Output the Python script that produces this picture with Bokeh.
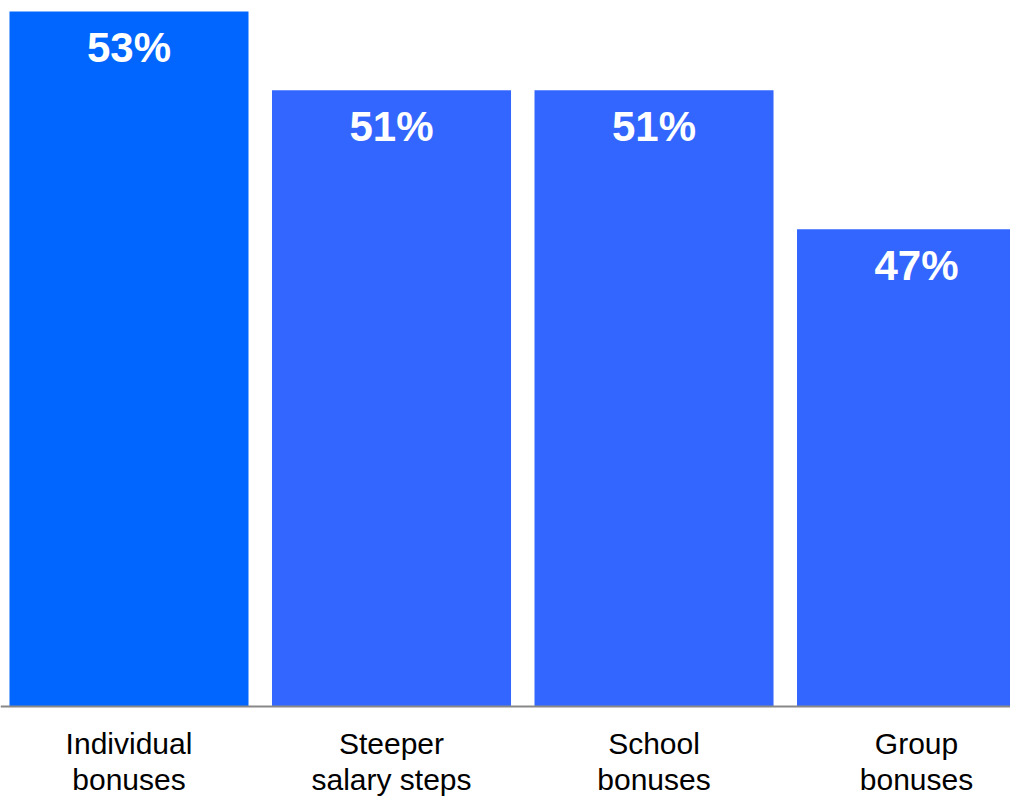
from bokeh.plotting import figure
from bokeh.models import ColumnDataSource, Range1d, Span
from bokeh.core.properties import value
from bokeh.embed import file_html
from bokeh.resources import INLINE

categories = ["Individual\nbonuses", "Steeper\nsalary steps", "School\nbonuses", "Group\nbonuses"]
values = [53.0, 50.85, 50.85, 47.05]
value_labels = ["53%", "51%", "51%", "47%"]
colors = ["#0066FF", "#3366FF", "#3366FF", "#3366FF"]
base = 34.0

xs = list(range(len(categories)))
src = ColumnDataSource(dict(x=xs, top=values, cat=categories, lab=value_labels, color=colors))

p = figure(width=1010, height=798, output_backend="svg", toolbar_location=None,
           x_range=Range1d(-0.4895, 3.358), y_range=Range1d(31.485, 53.3007),
           min_border=0, min_border_left=0, min_border_right=0, min_border_top=0, min_border_bottom=0)
p.axis.visible = False
p.grid.visible = False
p.outline_line_color = None
p.background_fill_color = "white"
p.border_fill_color = "white"

p.vbar(x="x", top="top", bottom=base, width=0.9105, fill_color="color", line_color=None, source=src)

p.add_layout(Span(location=base, dimension="width", line_color="#888888", line_width=2))

p.text(x="x", y="top", text="lab", source=src, text_color="white",
       text_font=value("Liberation Sans"), text_font_style="bold", text_font_size="42px",
       text_align="center", text_baseline="top", y_offset=13)

p.text(x="x", y=base, text="cat", source=src, text_color="black",
       text_font=value("Liberation Sans"), text_font_size="30px", text_line_height=1.1,
       text_align="center", text_baseline="top", y_offset=20)

open("out.html", "w").write(file_html(p, INLINE))
